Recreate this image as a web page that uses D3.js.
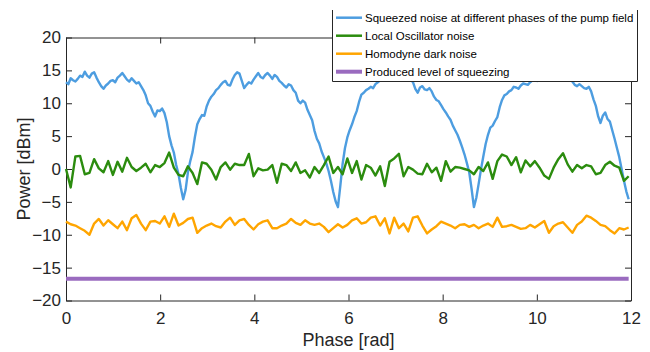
<!DOCTYPE html>
<html>
<head>
<meta charset="utf-8">
<script src="https://cdn.jsdelivr.net/npm/d3@7"></script>
<style>
  body { margin: 0; background: #fff; }
  svg { display: block; font-family: "Liberation Sans", Arial, Helvetica, sans-serif; }
  .axis path, .axis line { stroke: #262626; }
  .axis text { fill: #262626; font-size: 17px; }
</style>
</head>
<body>
<div id="chart"></div>
<script>
// phase runs 0 .. ~11.95 rad; samples are evenly spread over that range
const phaseMax = 11.95;

// squeezed noise, one sample every ~0.05 rad
const squeezedNoise = [
  13.2, 12.9, 13.8, 13.5, 13.3, 13.7, 14.2, 14.0, 14.8, 14.2, 13.9, 14.5, 14.7, 13.9, 13.2, 12.6, 12.2, 12.7, 13.0, 13.4,
  13.5, 13.2, 13.9, 14.2, 14.6, 14.1, 13.6, 13.3, 13.8, 13.4, 13.0, 13.2, 12.6, 12.0, 11.2, 10.0, 9.6, 8.7, 8.0, 8.9,
  8.8, 9.2, 8.5, 7.1, 5.0, 3.6, 2.5, 0.6, -0.8, -2.9, -4.6, -3.2, -0.5, 1.2, 2.6, 4.9, 6.8, 7.6, 8.2, 8.1,
  9.5, 10.4, 11.0, 11.4, 12.0, 12.3, 12.8, 13.2, 13.4, 12.8, 12.7, 13.6, 14.3, 14.7, 14.5, 13.4, 12.3, 12.8, 13.2, 13.0,
  13.6, 14.1, 14.6, 14.0, 13.8, 14.3, 14.6, 14.2, 13.7, 14.3, 14.0, 13.4, 13.1, 12.7, 12.4, 12.9, 12.7, 12.0, 11.6, 10.4,
  10.0, 10.4, 10.1, 9.0, 8.2, 7.4, 5.8, 4.6, 3.9, 2.7, 1.8, 0.9, -0.3, -1.8, -3.5, -4.9, -5.8, -2.6, 0.8, 3.2,
  4.8, 5.9, 6.8, 7.9, 8.8, 10.2, 11.3, 11.6, 12.0, 12.2, 12.5, 12.3, 12.9, 13.2, 13.5, 13.8, 14.0, 14.4, 14.3, 13.9,
  14.1, 14.6, 14.5, 14.0, 13.8, 14.3, 14.2, 13.6, 13.2, 12.2, 11.6, 12.4, 12.6, 12.1, 12.0, 12.3, 11.8, 11.0, 10.5, 10.3,
  9.7, 9.1, 8.6, 8.0, 7.5, 6.6, 5.9, 5.2, 4.3, 3.3, 2.2, 0.9, -0.5, -3.0, -5.8, -4.4, -2.3, -0.1, 1.9, 3.8,
  5.2, 6.3, 6.6, 7.3, 7.9, 9.4, 10.5, 11.2, 11.4, 11.8, 12.0, 12.5, 12.4, 12.2, 12.7, 13.0, 12.9, 12.8, 13.2, 13.5,
  13.6, 13.4, 14.0, 14.3, 13.8, 13.6, 14.1, 14.4, 13.9, 13.7, 14.2, 13.9, 13.6, 14.1, 13.9, 13.5, 13.3, 12.8, 12.6, 12.9,
  12.6, 12.3, 12.2, 12.5, 11.8, 10.6, 9.6, 8.0, 7.0, 8.1, 8.6, 7.6, 7.2, 5.9, 4.6, 3.2, 1.8, 0.0, -1.8, -3.4,
  -4.6
];

// local oscillator noise, one sample every ~0.1 rad
const loNoise = [
  0.0, -2.8, 1.9, 2.0, -0.8, -0.6, 1.5, 0.1, -0.5, 1.2,
  -0.9, 1.1, -0.4, 1.7, 0.3, -0.3, 0.2, 0.8, -0.5, 0.6,
  0.3, 0.9, 2.5, 0.2, -0.9, -1.1, 0.4, -0.6, -2.3, 1.0,
  0.8, -0.1, -1.6, 0.3, 1.0, -0.1, 0.8, 0.6, 0.6, 2.3,
  -1.1, 0.1, -0.2, -0.1, 0.6, -2.1, 0.8, 0.6, -0.3, 1.0,
  -0.6, -0.2, -1.3, 0.3, -0.6, 0.6, 1.9, -0.6, 0.3, -0.8,
  1.6, -0.6, 1.2, -1.6, 0.6, 0.2, -1.0, 0.4, -2.6, 1.1,
  1.6, 2.3, -1.1, 0.3, -0.1, -0.7, -0.8, 0.8, -0.5, 0.2,
  -1.8, 1.2, -0.4, 0.3, 0.2, 0.0, -0.2, -0.8, 0.3, -0.3,
  1.0, -1.5, 1.2, 2.2, 1.9, 0.6, 1.8, -0.5, 1.3, 0.4,
  1.2, 0.2, -1.0, -1.5, 0.2, 1.5, 2.4, 0.7, -0.4, 0.6,
  0.1, 0.6, 0.4, -0.8, -0.6, 0.6, 1.1, 0.5, 0.2, -1.8,
  -1.1
];

// homodyne dark noise, one sample every ~0.1 rad
const darkNoise = [
  -8.0, -8.4, -8.6, -9.0, -9.4, -10.0, -8.3, -7.6, -8.6, -7.8,
  -8.4, -9.0, -8.0, -9.3, -7.5, -7.0, -8.3, -9.3, -8.0, -7.9,
  -8.3, -7.2, -8.8, -6.8, -8.6, -8.2, -7.6, -7.4, -9.7, -9.0,
  -8.6, -8.3, -8.7, -8.9, -8.0, -7.4, -8.5, -7.8, -7.6, -8.5,
  -9.2, -8.4, -8.0, -7.8, -9.0, -9.0, -8.6, -8.3, -7.6, -8.2,
  -8.5, -7.8, -8.3, -8.5, -8.3, -8.8, -9.6, -9.0, -8.4, -8.9,
  -8.5, -7.8, -7.5, -8.3, -8.1, -7.4, -7.2, -8.6, -7.5, -9.8,
  -7.4, -9.0, -8.3, -9.5, -7.4, -7.2, -8.6, -9.8, -9.2, -8.7,
  -8.0, -8.3, -8.6, -9.0, -8.5, -8.4, -8.8, -8.5, -9.0, -8.6,
  -8.3, -8.8, -7.4, -8.8, -8.7, -8.5, -8.8, -9.1, -9.0, -8.5,
  -8.9, -8.4, -7.9, -9.7, -8.7, -8.3, -8.1, -8.9, -9.7, -8.5,
  -8.0, -7.1, -7.4, -7.9, -8.5, -8.7, -9.3, -9.8, -9.0, -9.2,
  -8.9
];

const squeezingLevel = -16.7;

const seriesNames = [
  "Squeezed noise at different phases of the pump field",
  "Local Oscillator noise",
  "Homodyne dark noise",
  "Produced level of squeezing"
];
const seriesColors = ["#4d9de0", "#2b8c0e", "#ffa500", "#9a6bbf"];
const seriesWidths = [2.4, 2.4, 2.4, 4];

const xTicks = [0, 2, 4, 6, 8, 10, 12];
const yTicks = [-20, -15, -10, -5, 0, 5, 10, 15, 20];

const w = 650, h = 352;
const margin = {top: 37.5, right: 19, bottom: 51.5, left: 66};
const width = w - margin.left - margin.right;
const height = h - margin.top - margin.bottom;

const svg = d3.select("#chart").append("svg")
    .attr("width", w)
    .attr("height", h);

const chart = svg.append("g")
    .attr("transform", "translate(" + margin.left + "," + margin.top + ")");

const xScale = d3.scaleLinear().domain([0, 12]).range([0, width]);
const yScale = d3.scaleLinear().domain([-20, 20]).range([height, 0]);

const phaseAt = (i, n) => i * phaseMax / (n - 1);
const line = d3.line()
    .x((d, i, arr) => xScale(phaseAt(i, arr.length)))
    .y(d => yScale(d));

// axes, MATLAB style: box with inward ticks on all four sides
chart.append("g").attr("class", "axis")
    .attr("transform", "translate(0," + height + ")")
    .call(d3.axisBottom(xScale).tickValues(xTicks).tickSizeInner(-6).tickSizeOuter(0).tickPadding(11));
chart.append("g").attr("class", "axis")
    .call(d3.axisLeft(yScale).tickValues(yTicks).tickSizeInner(-6).tickSizeOuter(0).tickPadding(5));
chart.append("g").attr("class", "axis")
    .call(d3.axisTop(xScale).tickValues(xTicks).tickSizeInner(-6).tickSizeOuter(0).tickFormat(""));
chart.append("g").attr("class", "axis")
    .attr("transform", "translate(" + width + ",0)")
    .call(d3.axisRight(yScale).tickValues(yTicks).tickSizeInner(-6).tickSizeOuter(0).tickFormat(""));

// data lines
const lines = [squeezedNoise, loNoise, darkNoise];
lines.forEach((data, k) => {
  chart.append("path")
      .datum(data)
      .attr("fill", "none")
      .attr("stroke", seriesColors[k])
      .attr("stroke-width", seriesWidths[k])
      .attr("stroke-linejoin", "round")
      .attr("d", line);
});

chart.append("line")
    .attr("x1", xScale(0))
    .attr("x2", xScale(phaseMax))
    .attr("y1", yScale(squeezingLevel))
    .attr("y2", yScale(squeezingLevel))
    .attr("stroke", seriesColors[3])
    .attr("stroke-width", seriesWidths[3]);

// axis labels
svg.append("text")
    .attr("x", margin.left + width / 2)
    .attr("y", 346)
    .attr("text-anchor", "middle")
    .attr("fill", "#262626")
    .style("font-size", "18px")
    .text("Phase [rad]");
svg.append("text")
    .attr("transform", "rotate(-90)")
    .attr("x", -(margin.top + height / 2))
    .attr("y", 30)
    .attr("text-anchor", "middle")
    .attr("fill", "#262626")
    .style("font-size", "18px")
    .text("Power [dBm]");

// legend (top edge sits off the figure, so only three sides show)
const legend = svg.append("g");
const lx0 = 332.5, lx1 = 637.5, ly0 = 10, ly1 = 81.5;
legend.append("rect")
    .attr("x", lx0).attr("y", ly0)
    .attr("width", lx1 - lx0).attr("height", ly1 - ly0)
    .attr("fill", "#fff");
legend.append("path")
    .attr("d", "M" + lx0 + "," + ly0 + "V" + ly1 + "H" + lx1 + "V" + ly0)
    .attr("fill", "none")
    .attr("stroke", "#262626")
    .attr("stroke-width", 1);
seriesNames.forEach((name, k) => {
  const yy = 17.7 + k * 18;
  legend.append("line")
      .attr("x1", 336).attr("x2", 362)
      .attr("y1", yy).attr("y2", yy)
      .attr("stroke", seriesColors[k])
      .attr("stroke-width", k === 3 ? 4 : 2.5);
  legend.append("text")
      .attr("x", 365)
      .attr("y", yy)
      .attr("dy", "0.35em")
      .attr("fill", "#000")
      .style("font-size", "11.5px")
      .text(name);
});
</script>
</body>
</html>
